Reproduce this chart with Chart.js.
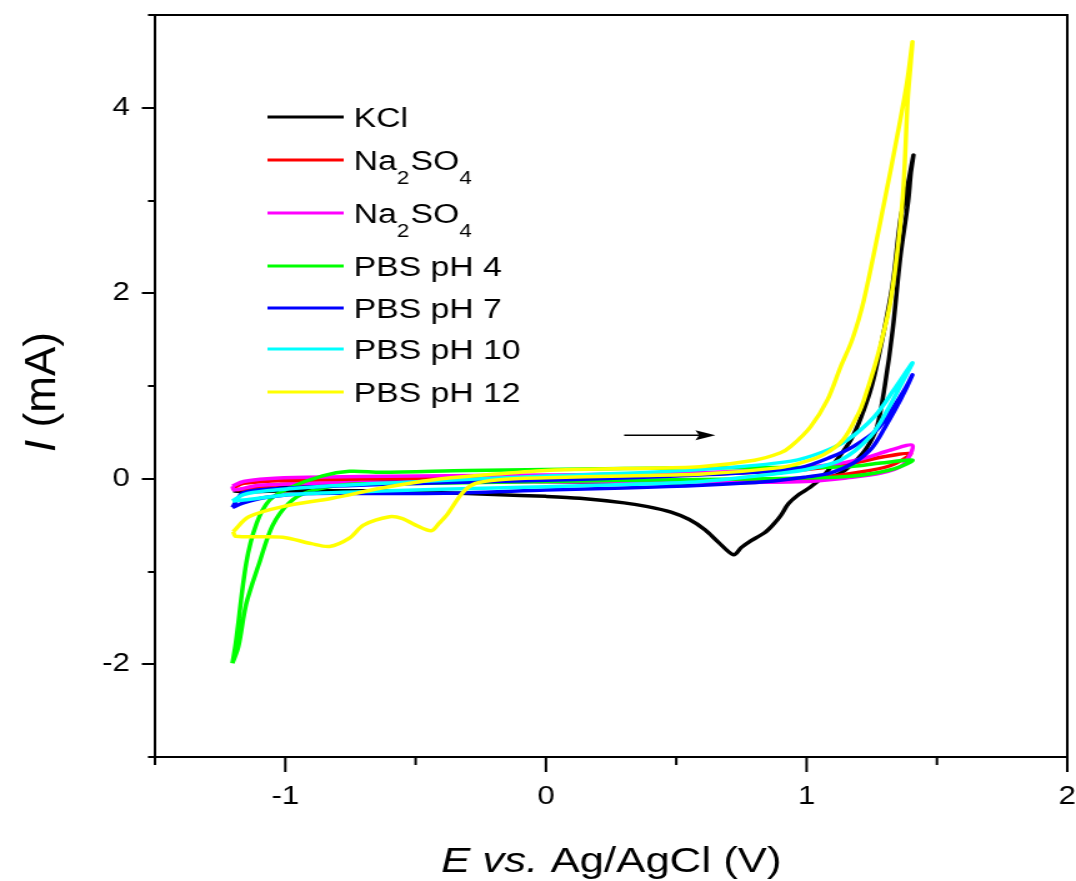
<!DOCTYPE html>
<html><head><meta charset="utf-8">
<script src="https://cdn.jsdelivr.net/npm/chart.js@4.4.1/dist/chart.umd.min.js"></script>
<style>
html,body{margin:0;padding:0;background:#fff;overflow:hidden;}
#c{display:block;width:1076px !important;height:881px !important;}
</style></head><body>
<canvas id="c" width="861" height="881" style="width:1076px;height:881px;"></canvas>
<script>
// horizontal stretch of the reference figure
const S = 1076 / 861;

// ---- data (E in V vs Ag/AgCl, I in mA), each a closed CV loop ----
const kclE = [-1.2,-1.15,-1.0,-0.8,-0.6,-0.4,-0.2,0,0.13,0.3,0.39,0.48,0.55,0.61,0.66,0.72,0.75,0.78,0.84,0.87,0.9,0.93,0.97,1.015,1.06,1.12,1.17,1.21,1.25,1.29,1.33,1.36,1.39,1.41,1.40,1.39,1.36,1.33,1.30,1.27,1.23,1.18,1.13,1.05,0.9,0.6,0.3,0,-0.3,-0.6,-0.9,-1.1,-1.2];
const kclI = [-0.13,-0.14,-0.13,-0.13,-0.13,-0.15,-0.17,-0.19,-0.21,-0.26,-0.30,-0.36,-0.44,-0.55,-0.68,-0.82,-0.74,-0.68,-0.58,-0.50,-0.40,-0.27,-0.17,-0.09,0.02,0.22,0.42,0.67,1.0,1.5,2.1,2.8,3.2,3.49,3.3,3.0,2.4,1.6,1.0,0.56,0.33,0.17,0.06,0.0,-0.03,-0.05,-0.04,-0.03,-0.01,-0.03,-0.06,-0.09,-0.13];

const na1E = [-1.2,-1.16,-1.0,-0.6,0,0.6,1.0,1.2,1.3,1.4,1.32,1.2,1.0,0.5,0,-0.5,-1.0,-1.18,-1.2];
const na1I = [-0.1,-0.05,-0.02,0.0,0.02,0.05,0.1,0.18,0.24,0.27,0.14,0.07,0.0,-0.02,-0.03,-0.04,-0.06,-0.12,-0.1];

const na2E = [-1.203,-1.16,-1.07,-0.915,-0.5,0,0.5,0.9,1.09,1.22,1.323,1.406,1.37,1.285,1.157,1.0,0.6,0,-0.7,-1.1,-1.196,-1.203];
const na2I = [-0.08,-0.03,0.0,0.015,0.03,0.04,0.06,0.1,0.15,0.22,0.31,0.36,0.15,0.06,0.01,-0.03,-0.04,-0.03,-0.04,-0.07,-0.12,-0.08];

const ph4E = [-1.203,-1.18,-1.15,-1.10,-1.05,-0.985,-0.91,-0.754,-0.5,0,0.5,0.85,1.03,1.157,1.26,1.35,1.406,1.285,1.157,0.8,0.3,0,-0.3,-0.63,-0.754,-0.857,-0.985,-1.06,-1.11,-1.15,-1.19,-1.203];
const ph4I = [-1.99,-1.81,-1.35,-0.91,-0.51,-0.26,-0.14,-0.06,-0.05,-0.03,-0.01,0.0,0.01,0.025,0.06,0.12,0.20,0.17,0.13,0.12,0.11,0.10,0.09,0.07,0.08,0.03,-0.10,-0.23,-0.48,-0.91,-1.77,-1.99];

const ph7E = [-1.203,-1.16,-1.07,-0.915,-0.6,-0.3,0,0.3,0.6,0.85,1.0,1.09,1.18,1.25,1.30,1.36,1.406,1.38,1.335,1.27,1.18,1.09,0.977,0.8,0.5,0.2,-0.2,-0.6,-0.98,-1.16,-1.203];
const ph7I = [-0.31,-0.26,-0.2,-0.16,-0.16,-0.15,-0.12,-0.1,-0.07,-0.03,0.02,0.06,0.17,0.33,0.55,0.85,1.12,0.98,0.78,0.53,0.35,0.23,0.12,0.07,0.03,0.0,-0.03,-0.06,-0.1,-0.15,-0.31];

const ph10E = [-1.203,-1.16,-0.98,-0.6,-0.2,0.2,0.6,0.9,1.0,1.13,1.246,1.31,1.373,1.406,1.335,1.26,1.157,1.054,0.94,0.7,0.4,0,-0.4,-0.85,-1.07,-1.16,-1.203];
const ph10I = [-0.24,-0.23,-0.17,-0.13,-0.1,-0.07,-0.03,0.06,0.1,0.2,0.46,0.74,1.07,1.25,0.96,0.67,0.42,0.28,0.19,0.12,0.07,0.03,-0.02,-0.08,-0.13,-0.17,-0.24];

const ph12E = [-1.2,-1.14,-1.01,-0.82,-0.63,-0.43,-0.24,0.0,0.3,0.59,0.8,0.9,0.94,1.015,1.08,1.131,1.175,1.22,1.30,1.35,1.385,1.406,1.40,1.388,1.368,1.323,1.27,1.22,1.20,1.14,1.066,0.977,0.9,0.6,0.3,0.0,-0.18,-0.27,-0.32,-0.38,-0.41,-0.44,-0.5,-0.55,-0.6,-0.70,-0.754,-0.83,-0.9,-1.01,-1.19,-1.2];
const ph12I = [-0.57,-0.41,-0.30,-0.21,-0.10,-0.01,0.04,0.09,0.11,0.13,0.2,0.28,0.35,0.56,0.85,1.21,1.50,1.93,3.01,3.73,4.27,4.71,4.5,4.09,3.01,1.93,1.3,0.85,0.71,0.42,0.26,0.17,0.12,0.05,0.03,0.01,-0.01,-0.05,-0.15,-0.39,-0.48,-0.56,-0.50,-0.43,-0.41,-0.50,-0.64,-0.73,-0.70,-0.63,-0.62,-0.57];

const seriesNames = ['KCl','Na2SO4','Na2SO4','PBS pH 4','PBS pH 7','PBS pH 10','PBS pH 12'];
const seriesColors = ['#000000','#ff0000','#ff00ff','#00ff00','#0000ff','#00ffff','#ffff00'];
const seriesE = [kclE, na1E, na2E, ph4E, ph7E, ph10E, ph12E];
const seriesI = [kclI, na1I, na2I, ph4I, ph7I, ph10I, ph12I];

const xTicksMin = -1.5, xTicksMax = 2, yTicksMin = -3, yTicksMax = 5;
const arrowE = [0.30, 0.65], arrowI = 0.47;

const FONT = '"Liberation Sans", Arial, sans-serif';

const datasets = seriesNames.map((n, k) => ({
  label: n,
  data: seriesE[k].map((e, i) => ({x: e, y: seriesI[k][i]})),
  showLine: true,
  borderColor: seriesColors[k],
  backgroundColor: seriesColors[k],
  borderWidth: 3.5,
  pointRadius: 0,
  tension: 0.3,
  fill: false,
  order: seriesNames.length - k
}));

function subText(ctx, parts, x, y, size) {
  let cx = x;
  for (const [t, sub] of parts) {
    ctx.font = (sub ? Math.round(size * 0.66) : size) + 'px ' + FONT;
    ctx.fillText(t, cx, sub ? y + 14 : y);
    cx += ctx.measureText(t).width + (sub ? 1 : 0);
  }
}

const decor = {
  id: 'decor',
  afterDraw(chart) {
    const {ctx, chartArea: {left, top, right, bottom}, scales: {x, y}} = chart;
    ctx.save();
    ctx.strokeStyle = '#000';
    ctx.fillStyle = '#000';
    ctx.lineWidth = 2;
    ctx.lineCap = 'butt';
    ctx.beginPath();
    ctx.rect(left, top, right - left, bottom - top);
    ctx.stroke();
    ctx.beginPath();
    for (let v = yTicksMin; v <= yTicksMax; v++) {
      const py = Math.round(y.getPixelForValue(v));
      const len = (v % 2 === 0) ? 10.5 : 5.6;
      ctx.moveTo(left - len, py);
      ctx.lineTo(left, py);
    }
    for (let v = xTicksMin; v <= xTicksMax + 1e-9; v += 0.5) {
      const px = x.getPixelForValue(v);
      const len = Math.abs(v - Math.round(v)) < 1e-9 ? 15 : 8;
      ctx.moveTo(px, bottom);
      ctx.lineTo(px, bottom + len);
    }
    ctx.stroke();

    const ax0 = x.getPixelForValue(arrowE[0]);
    const ax1 = x.getPixelForValue(arrowE[1]);
    const ay = y.getPixelForValue(arrowI);
    ctx.lineWidth = 1.5;
    ctx.beginPath();
    ctx.moveTo(ax0, ay);
    ctx.lineTo(ax1 - 10, ay);
    ctx.stroke();
    ctx.beginPath();
    ctx.moveTo(ax1, ay);
    ctx.lineTo(ax1 - 16, ay - 5);
    ctx.lineTo(ax1 - 13, ay);
    ctx.lineTo(ax1 - 16, ay + 5);
    ctx.closePath();
    ctx.fill();

    const rowY = [117, 160, 213, 266, 308, 349, 392];
    ctx.lineWidth = 3;
    ctx.textBaseline = 'alphabetic';
    ctx.textAlign = 'left';
    seriesNames.forEach((n, k) => {
      ctx.strokeStyle = seriesColors[k];
      ctx.beginPath();
      ctx.moveTo(214, rowY[k]);
      ctx.lineTo(275, rowY[k]);
      ctx.stroke();
      ctx.fillStyle = '#000';
      if (n === 'Na2SO4') {
        subText(ctx, [['Na', false], ['2', true], ['SO', false], ['4', true]], 283, rowY[k] + 10, 27);
      } else {
        ctx.font = '27px ' + FONT;
        ctx.fillText(n, 283, rowY[k] + 10);
      }
    });

    ctx.fillStyle = '#000';
    ctx.font = 'italic 35px ' + FONT;
    let tx = 353;
    const ty = 872;
    ctx.fillText('E vs.', tx, ty);
    tx += ctx.measureText('E vs. ').width;
    ctx.font = '35px ' + FONT;
    ctx.fillText('Ag/AgCl (V)', tx, ty);

    ctx.save();
    ctx.translate(44, 392);
    ctx.scale(1 / S, 1);
    ctx.rotate(-Math.PI / 2);
    ctx.font = 'italic 44px ' + FONT;
    const w1 = ctx.measureText('I ').width;
    ctx.font = '44px ' + FONT;
    const w2 = ctx.measureText('(mA)').width;
    const sx = -(w1 + w2) / 2;
    ctx.font = 'italic 44px ' + FONT;
    ctx.fillText('I', sx, 0);
    ctx.font = '44px ' + FONT;
    ctx.fillText('(mA)', sx + w1, 0);
    ctx.restore();

    ctx.restore();
  }
};

new Chart(document.getElementById('c'), {
  type: 'scatter',
  data: {datasets},
  options: {
    responsive: false,
    animation: false,
    devicePixelRatio: 1,
    layout: {padding: {top: 15, right: 7, left: 0, bottom: 0}},
    plugins: {legend: {display: false}, tooltip: {enabled: false}},
    scales: {
      x: {
        type: 'linear', min: xTicksMin, max: xTicksMax,
        grid: {display: false, drawTicks: false},
        border: {display: false},
        ticks: {
          stepSize: 0.5, autoSkip: false, maxRotation: 0, padding: 25,
          color: '#000', font: {family: FONT, size: 25},
          callback: v => Math.abs(v - Math.round(v)) < 1e-9 ? String(Math.round(v)) : ''
        },
        afterFit: s => { s.height = 124; s.paddingLeft = 0; s.paddingRight = 0; }
      },
      y: {
        type: 'linear', min: yTicksMin, max: yTicksMax,
        grid: {display: false, drawTicks: false},
        border: {display: false},
        ticks: {
          stepSize: 1, autoSkip: false, padding: 20,
          color: '#000', font: {family: FONT, size: 25},
          callback: v => (v % 2 === 0 && v > yTicksMin && v < yTicksMax) ? String(v) : ''
        },
        afterFit: s => { s.width = 124; s.paddingTop = 0; s.paddingBottom = 0; }
      }
    }
  },
  plugins: [decor]
});
</script>
</body></html>
